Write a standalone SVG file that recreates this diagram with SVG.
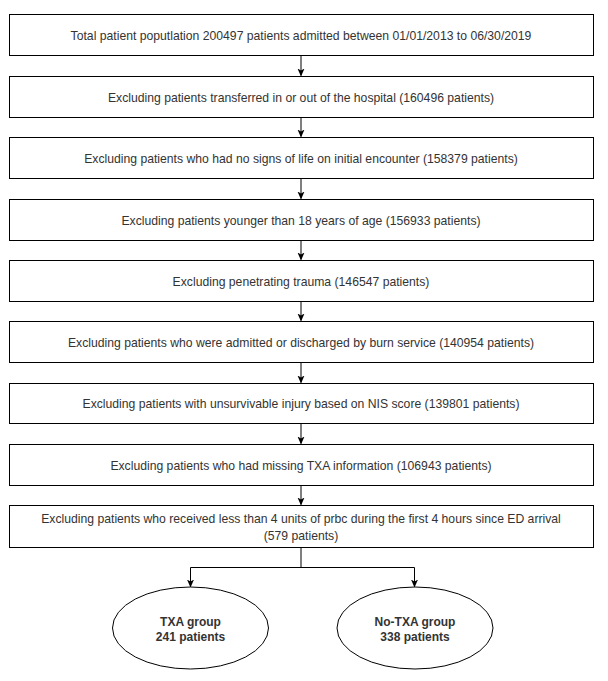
<svg xmlns="http://www.w3.org/2000/svg" width="608" height="681" viewBox="0 0 608 681">
<defs>
<style>
.box{fill:#fff;stroke:#000;stroke-width:1}
.t{font-family:"Liberation Sans",Arial,sans-serif;font-size:12.2px;fill:#333;text-anchor:middle}
.b{font-family:"Liberation Sans",Arial,sans-serif;font-size:12px;font-weight:bold;fill:#333;text-anchor:middle}
.c{fill:none;stroke:#000;stroke-width:1}
</style>
<marker id="ah" markerWidth="8" markerHeight="8" viewBox="0 0 8 8" refX="7" refY="4" orient="auto" markerUnits="userSpaceOnUse">
<path d="M0,0.5 L8,4 L0,7.5 L2,4 Z" fill="#000"/>
</marker>
</defs>
<rect width="608" height="681" fill="#fff"/>
<g id="connectors">
<line class="c" x1="301" y1="55.5" x2="301" y2="75.5" marker-end="url(#ah)"/>
<line class="c" x1="301" y1="117.5" x2="301" y2="136.5" marker-end="url(#ah)"/>
<line class="c" x1="301" y1="178.5" x2="301" y2="198.5" marker-end="url(#ah)"/>
<line class="c" x1="301" y1="240.5" x2="301" y2="259.5" marker-end="url(#ah)"/>
<line class="c" x1="301" y1="301.5" x2="301" y2="320.5" marker-end="url(#ah)"/>
<line class="c" x1="301" y1="362.5" x2="301" y2="382.5" marker-end="url(#ah)"/>
<line class="c" x1="301" y1="423.5" x2="301" y2="443.5" marker-end="url(#ah)"/>
<line class="c" x1="301" y1="485.5" x2="301" y2="504.5" marker-end="url(#ah)"/>
<path class="c" d="M301,547.5 V567.5 H190.5 V586.5" marker-end="url(#ah)"/>
<path class="c" d="M301,567.5 H414.5 V586.5" marker-end="url(#ah)"/>
</g>
<g id="n1"><rect class="box" x="9.5" y="14.5" width="584" height="41"/><text class="t" x="301" y="39.5">Total patient poputlation 200497 patients admitted between 01/01/2013 to 06/30/2019</text></g>
<g id="n2"><rect class="box" x="9.5" y="76.5" width="584" height="41"/><text class="t" x="301" y="101.5">Excluding patients transferred in or out of the hospital (160496 patients)</text></g>
<g id="n3"><rect class="box" x="9.5" y="137.5" width="584" height="41"/><text class="t" x="301" y="162.5">Excluding patients who had no signs of life on initial encounter (158379 patients)</text></g>
<g id="n4"><rect class="box" x="9.5" y="199.5" width="584" height="41"/><text class="t" x="301" y="224.5">Excluding patients younger than 18 years of age (156933 patients)</text></g>
<g id="n5"><rect class="box" x="9.5" y="260.5" width="584" height="41"/><text class="t" x="301" y="285.5">Excluding penetrating trauma (146547 patients)</text></g>
<g id="n6"><rect class="box" x="9.5" y="321.5" width="584" height="41"/><text class="t" x="301" y="346.5">Excluding patients who were admitted or discharged by burn service (140954 patients)</text></g>
<g id="n7"><rect class="box" x="9.5" y="383.5" width="584" height="40"/><text class="t" x="301" y="407.5">Excluding patients with unsurvivable injury based on NIS score (139801 patients)</text></g>
<g id="n8"><rect class="box" x="9.5" y="444.5" width="584" height="41"/><text class="t" x="301" y="469.5">Excluding patients who had missing TXA information (106943 patients)</text></g>
<g id="n9"><rect class="box" x="9.5" y="505.5" width="584" height="42"/><text class="t" x="301" y="522.5">Excluding patients who received less than 4 units of prbc during the first 4 hours since ED arrival</text><text class="t" x="301" y="539.5">(579 patients)</text></g>
<g id="n10"><ellipse class="box" cx="190.5" cy="628" rx="78" ry="41"/><text class="b" x="190.5" y="626">TXA group</text><text class="b" x="190.5" y="641">241 patients</text></g>
<g id="n11"><ellipse class="box" cx="415" cy="628" rx="78" ry="41"/><text class="b" x="415" y="626">No-TXA group</text><text class="b" x="415" y="641">338 patients</text></g>
</svg>
